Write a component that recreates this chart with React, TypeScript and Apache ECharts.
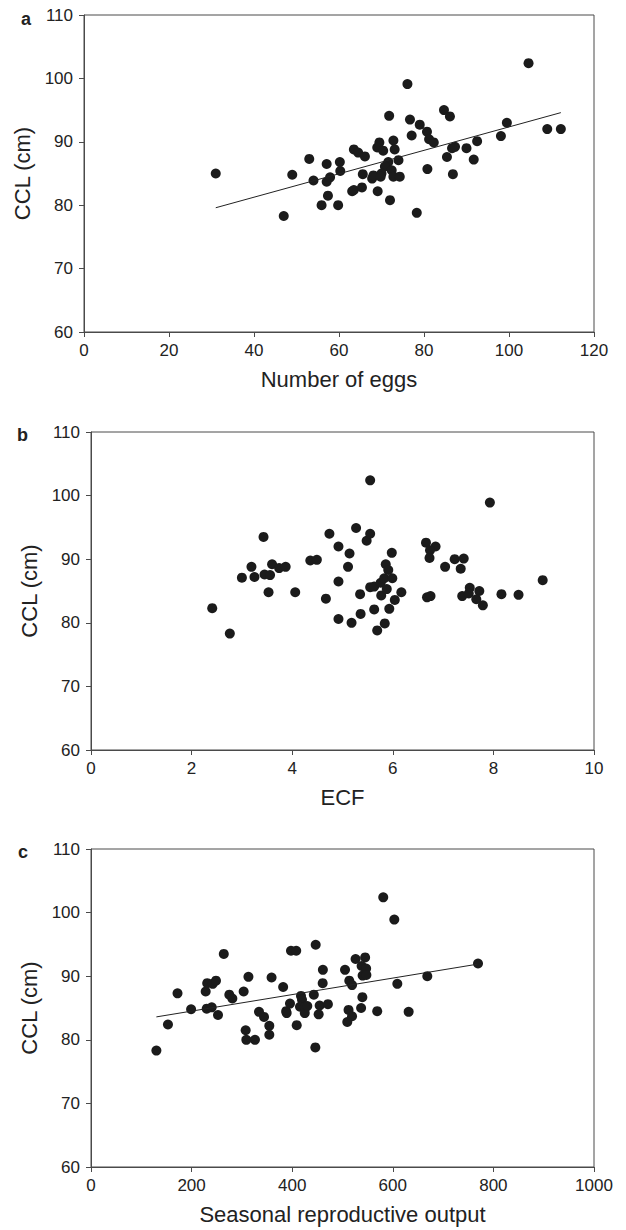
import React, { useEffect, useRef } from "react";
import * as echarts from "echarts";

// Panel a: Number of eggs vs CCL
const eggsPoints: number[][] = [
  [31, 85.0], [47, 78.3], [49, 84.8], [53, 87.3], [54, 83.9], [57.1, 86.5], [57.1, 83.7],
  [57.9, 84.4], [57.4, 81.5], [55.9, 80.0], [59.8, 80.0], [60.2, 86.8], [60.3, 85.4],
  [63.5, 88.8], [64.5, 88.3], [66.1, 87.7], [65.6, 84.9], [63.1, 82.2], [63.5, 82.4],
  [65.4, 82.8], [69.1, 82.2], [67.8, 84.2], [68.1, 84.7], [69.5, 89.9], [69.0, 89.1],
  [70.4, 88.6], [71.8, 94.1], [72.8, 90.2], [73.1, 88.8], [74.0, 87.1], [71.6, 86.8],
  [70.8, 86.1], [70.0, 85.0], [72.4, 85.5], [72.8, 84.5], [74.3, 84.5], [72.0, 80.8],
  [76.1, 99.1], [76.7, 93.5], [77.1, 91.0], [79.0, 92.7], [80.7, 91.6], [81.2, 90.4],
  [82.3, 89.9], [80.8, 85.7], [78.3, 78.8], [84.7, 95.0], [86.1, 94.0], [85.4, 87.6],
  [86.6, 89.0], [87.3, 89.2], [86.8, 84.9], [90.0, 89.0], [91.7, 87.2], [92.5, 90.1],
  [98.1, 90.9], [99.5, 93.0], [104.6, 102.4], [109.0, 92.0], [112.2, 92.0], [69.8, 84.5]
];
const eggsFit: number[][] = [[31, 79.6], [112.2, 94.6]];

// Panel b: ECF vs CCL
const ecfPoints: number[][] = [
  [2.41, 82.3], [2.76, 78.3], [3.0, 87.1], [3.19, 88.8], [3.25, 87.2], [3.43, 93.5],
  [3.45, 87.6], [3.56, 87.5], [3.53, 84.8], [3.6, 89.2], [3.74, 88.6], [3.87, 88.8],
  [4.06, 84.8], [4.36, 89.8], [4.49, 89.9], [4.67, 83.8], [4.74, 94.0], [4.92, 92.0],
  [4.92, 86.5], [4.92, 80.6], [5.11, 88.8], [5.14, 90.9], [5.18, 80.0], [5.27, 94.9],
  [5.35, 84.5], [5.36, 81.4], [5.48, 92.9], [5.55, 94.0], [5.55, 102.4], [5.55, 85.6],
  [5.63, 85.7], [5.63, 82.1], [5.69, 78.8], [5.84, 79.9], [5.77, 84.3], [5.76, 86.3],
  [5.83, 87.0], [5.86, 89.2], [5.91, 88.3], [5.98, 91.0], [5.99, 87.0], [5.88, 85.3],
  [5.93, 82.2], [6.04, 83.6], [6.17, 84.8], [6.66, 92.6], [6.85, 92.0], [6.74, 91.4],
  [6.73, 90.2], [6.68, 84.0], [6.75, 84.2], [7.04, 88.8], [7.23, 90.0], [7.41, 90.1],
  [7.35, 88.5], [7.38, 84.2], [7.53, 85.5], [7.51, 84.6], [7.72, 85.0], [7.66, 83.7],
  [7.79, 82.75], [7.93, 98.9], [8.16, 84.5], [8.5, 84.4], [8.98, 86.7]
];

// Panel c: Seasonal reproductive output vs CCL
const sroPoints: number[][] = [
  [130, 78.3], [153, 82.4], [172, 87.3], [199, 84.8], [228, 87.6], [231, 88.9], [242, 88.8],
  [248.5, 89.3], [230, 84.9], [240, 85.1], [252.5, 83.9], [264, 93.5], [275, 87.1], [281, 86.5],
  [303.5, 87.6], [313, 89.9], [307.5, 81.5], [308.8, 80.0], [326, 80.0], [334, 84.4], [344, 83.6],
  [354.5, 82.2], [354.5, 80.8], [359, 89.8], [382, 88.3], [388, 84.5], [389, 84.2], [395.6, 85.7],
  [397.6, 94.0], [408, 94.0], [409, 82.3], [417.5, 86.9], [419.5, 86.3], [415.5, 85.2], [425, 85.2],
  [425, 84.2], [430, 85.3], [443, 87.1], [446.7, 94.95], [446, 78.8], [452.6, 84.0], [454.6, 85.4],
  [471, 85.6], [460.6, 88.9], [461, 91.0], [505, 91.0], [513.5, 89.3], [519, 88.6], [512, 84.7],
  [519, 83.7], [509.5, 82.8], [526, 92.7], [545, 92.95], [538, 91.6], [547, 91.2], [540, 90.1],
  [547.5, 90.2], [539.5, 86.7], [537, 85.0], [569, 84.5], [581, 102.4], [603, 98.9], [609, 88.8],
  [631.5, 84.4], [668.6, 90.0], [769.4, 92.0]
];
const sroFit: number[][] = [[130, 83.6], [769, 91.9]];

const cclTicks = { min: 60, max: 110, interval: 10 };
const panelLetters = ["a", "b", "c"];
const xNames = ["Number of eggs", "ECF", "Seasonal reproductive output"];
const xRanges = [
  { min: 0, max: 120, interval: 20 },
  { min: 0, max: 10, interval: 2 },
  { min: 0, max: 1000, interval: 200 }
];

const FONT = "Liberation Sans, Arial, Helvetica, sans-serif";
const AXIS_COLOR = "#4a4a4a";
const TEXT_COLOR = "#222";
const DOT_COLOR = "#1b1b1b";

const grids = [
  { left: 84, top: 15, width: 510, height: 317 },
  { left: 91, top: 432, width: 503, height: 318 },
  { left: 91, top: 849, width: 503, height: 318 }
];
const yNameGaps = [44, 48, 48];
const letterPos = [
  { x: 21, y: 19 },
  { x: 17, y: 435 },
  { x: 18, y: 852 }
];

export default function App() {
  const ref = useRef<HTMLDivElement>(null);
  useEffect(() => {
    if (!ref.current) return;
    const chart = echarts.init(ref.current, undefined, { renderer: "svg" });
    const axisLine = { show: true, lineStyle: { color: AXIS_COLOR, width: 1 } };
    const axisTick = { show: true, inside: false, length: 5, lineStyle: { color: AXIS_COLOR, width: 1 } };
    const plain = (v: number) => String(v);
    const option: any = {
      animation: false,
      backgroundColor: "#fff",
      grid: grids.map((g) => ({
        ...g,
        show: true,
        borderColor: AXIS_COLOR,
        borderWidth: 1,
        backgroundColor: "transparent",
        containLabel: false
      })),
      xAxis: xRanges.map((r, i) => ({
        type: "value",
        gridIndex: i,
        min: r.min,
        max: r.max,
        interval: r.interval,
        name: xNames[i],
        nameLocation: "middle",
        nameGap: 36,
        nameTextStyle: { fontFamily: FONT, fontSize: 22, color: TEXT_COLOR },
        axisLine,
        axisTick,
        splitLine: { show: false },
        axisLabel: { fontFamily: FONT, fontSize: 17, color: TEXT_COLOR, margin: 10, formatter: plain }
      })),
      yAxis: [0, 1, 2].map((i) => ({
        type: "value",
        gridIndex: i,
        min: cclTicks.min,
        max: cclTicks.max,
        interval: cclTicks.interval,
        name: "CCL (cm)",
        nameLocation: "middle",
        nameGap: yNameGaps[i],
        nameTextStyle: { fontFamily: FONT, fontSize: 22, color: TEXT_COLOR },
        axisLine,
        axisTick,
        splitLine: { show: false },
        axisLabel: { fontFamily: FONT, fontSize: 17, color: TEXT_COLOR, margin: 11, formatter: plain }
      })),
      graphic: panelLetters.map((t, i) => ({
        type: "text",
        x: letterPos[i].x,
        y: letterPos[i].y,
        style: {
          text: t,
          font: `bold 18px ${FONT}`,
          fill: TEXT_COLOR,
          textVerticalAlign: "middle"
        }
      })),
      series: [
        {
          type: "scatter",
          xAxisIndex: 0,
          yAxisIndex: 0,
          data: eggsPoints,
          symbolSize: 10,
          itemStyle: { color: DOT_COLOR, opacity: 1 }
        },
        {
          type: "line",
          xAxisIndex: 0,
          yAxisIndex: 0,
          data: eggsFit,
          showSymbol: false,
          symbol: "none",
          lineStyle: { color: "#222", width: 1 },
          z: 3
        },
        {
          type: "scatter",
          xAxisIndex: 1,
          yAxisIndex: 1,
          data: ecfPoints,
          symbolSize: 10,
          itemStyle: { color: DOT_COLOR, opacity: 1 }
        },
        {
          type: "scatter",
          xAxisIndex: 2,
          yAxisIndex: 2,
          data: sroPoints,
          symbolSize: 10,
          itemStyle: { color: DOT_COLOR, opacity: 1 }
        },
        {
          type: "line",
          xAxisIndex: 2,
          yAxisIndex: 2,
          data: sroFit,
          showSymbol: false,
          symbol: "none",
          lineStyle: { color: "#222", width: 1 },
          z: 3
        }
      ]
    };
    chart.setOption(option);
    return () => chart.dispose();
  }, []);
  return (
    <div
      ref={ref}
      style={{ position: "absolute", left: 0, top: 0, width: 626, height: 1230, background: "#fff" }}
    />
  );
}
